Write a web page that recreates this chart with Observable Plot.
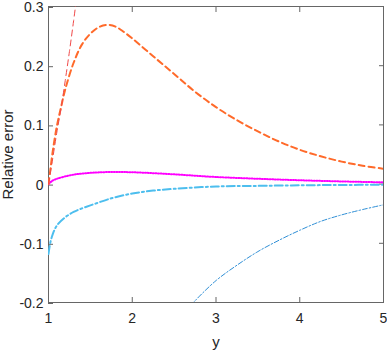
<!DOCTYPE html>
<html>
<head>
<meta charset="utf-8">
<script src="https://cdn.jsdelivr.net/npm/d3@7"></script>
<script src="https://cdn.jsdelivr.net/npm/@observablehq/plot@0.6"></script>
<style>
  html, body { margin: 0; padding: 0; background: #fff; }
  #chart svg { display: block; }
  #chart svg text { font-size: 14px; fill: #262626; }
  #chart svg g[aria-label="x-axis label"] text,
  #chart svg g[aria-label="y-axis label"] text { font-size: 15px; }
</style>
</head>
<body>
<div id="chart"></div>
<script>
const xTicks = [1, 2, 3, 4, 5];
const yTicks = [-0.2, -0.1, 0, 0.1, 0.2, 0.3];

const redX = [1, 1.05, 1.1, 1.15, 1.2, 1.25, 1.3, 1.35];
const redY = [0, 0.043, 0.088, 0.128, 0.175, 0.224, 0.276, 0.33];

const orangeX = [1, 1.02, 1.05, 1.1, 1.15, 1.2, 1.3, 1.4, 1.5, 1.6, 1.7, 1.8, 1.9, 2, 2.25, 2.5, 2.75, 3, 3.25, 3.5, 3.75, 4, 4.25, 4.5, 4.75, 5];
const orangeY = [0, 0.022, 0.055, 0.098, 0.13, 0.16, 0.205, 0.236, 0.254, 0.265, 0.269, 0.266, 0.257, 0.246, 0.216, 0.186, 0.156, 0.13, 0.108, 0.089, 0.072, 0.058, 0.047, 0.038, 0.031, 0.026];

const magentaX = [1, 1.05, 1.1, 1.2, 1.3, 1.5, 1.75, 2, 2.25, 2.5, 2.75, 3, 3.5, 4, 4.5, 5];
const magentaY = [0, 0.006, 0.009, 0.013, 0.016, 0.019, 0.0205, 0.02, 0.0185, 0.0165, 0.0142, 0.012, 0.009, 0.0065, 0.0045, 0.003];

const cyanX = [1, 1.02, 1.05, 1.1, 1.2, 1.3, 1.4, 1.5, 1.75, 2, 2.25, 2.5, 3, 3.5, 4, 4.5, 5];
const cyanY = [-0.118, -0.1, -0.085, -0.07, -0.056, -0.047, -0.041, -0.036, -0.024, -0.016, -0.011, -0.008, -0.004, -0.003, -0.002, -0.0015, -0.001];

const blueX = [2.7, 2.75, 3, 3.25, 3.5, 3.75, 4, 4.25, 4.5, 4.75, 5];
const blueY = [-0.205, -0.197, -0.163, -0.137, -0.114, -0.095, -0.078, -0.063, -0.052, -0.043, -0.035];

const toRows = (xs, ys) => xs.map((x, i) => ({x, y: ys[i]}));

const font = "'Liberation Sans', Arial, sans-serif";
const axisColor = "#666666";

const chart = Plot.plot({
  width: 387,
  height: 354,
  marginLeft: 48,
  marginRight: 4,
  marginTop: 6,
  marginBottom: 52,
  style: {fontFamily: font, fontSize: "14px", color: "#262626", background: "#fff"},
  x: {domain: [1, 5]},
  y: {domain: [-0.2, 0.3]},
  marks: [
    Plot.frame({stroke: axisColor, strokeWidth: 1}),
    Plot.axisX(xTicks, {anchor: "bottom", tickSize: -5, tickPadding: 16, stroke: axisColor, tickFormat: d => String(d), label: "y", labelAnchor: "center", labelArrow: "none", labelOffset: 44}),
    Plot.axisX(xTicks, {anchor: "top", tickSize: -5, stroke: axisColor, tickFormat: () => "", label: null}),
    Plot.axisY(yTicks, {anchor: "left", tickSize: -5, tickPadding: 10, dy: 1, stroke: axisColor, tickFormat: d => d === 0 ? "0" : String(Math.round(d * 10) / 10), label: "Relative error", labelAnchor: "center", labelArrow: "none", labelOffset: 46}),
    Plot.axisY(yTicks, {anchor: "right", tickSize: -5, stroke: axisColor, tickFormat: () => "", label: null}),
    Plot.line(toRows(blueX, blueY), {x: "x", y: "y", stroke: "#2f8fd6", strokeWidth: 1, strokeDasharray: "5,2,1.5,2", curve: "catmull-rom", clip: true}),
    Plot.line(toRows(cyanX, cyanY), {x: "x", y: "y", stroke: "#4DBEEE", strokeWidth: 2, strokeDasharray: "8,3,2,3", curve: "catmull-rom", clip: true}),
    Plot.line(toRows(magentaX, magentaY), {x: "x", y: "y", stroke: "#FF00FF", strokeWidth: 2, strokeDasharray: "1,1.6", curve: "catmull-rom", clip: true}),
    Plot.line(toRows(orangeX, orangeY), {x: "x", y: "y", stroke: "#FF6A2A", strokeWidth: 2, strokeDasharray: "6,4", curve: "catmull-rom", clip: true}),
    Plot.line(toRows(redX, redY), {x: "x", y: "y", stroke: "#F04848", strokeWidth: 1, strokeDasharray: "6,4", curve: "catmull-rom", clip: true})
  ]
});
document.getElementById("chart").appendChild(chart);
</script>
</body>
</html>
